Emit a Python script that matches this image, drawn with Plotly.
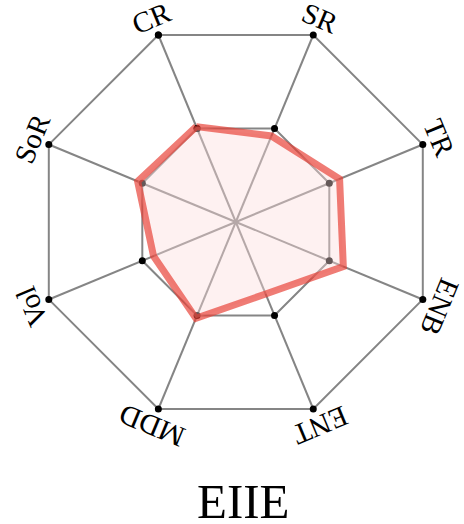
import math
import plotly.graph_objects as go

categories = ["CR", "SR", "TR", "ENB", "ENT", "MDD", "Vol", "SoR"]
eiie_values = [0.51, 0.46, 0.555, 0.575, 0.385, 0.515, 0.44, 0.525]
grid_levels = [0.5, 1.0]
title_text = "EIIE"

W, H = 464, 524
CX, CY, R = 235.8, 222.0, 202.4   # pixel centre and radius of the outer octagon
RMAX = 1.06                         # radial range beyond the outer octagon

closed_theta = categories + [categories[0]]

fig = go.Figure()

# spokes
spoke_r, spoke_t = [], []
for c in categories:
    spoke_r += [0, 1, None]
    spoke_t += [c, c, None]
fig.add_trace(go.Scatterpolar(
    r=spoke_r, theta=spoke_t, mode="lines",
    line=dict(color="#858585", width=2),
    hoverinfo="skip", showlegend=False))

# grid octagons with vertex dots
for lvl in grid_levels:
    fig.add_trace(go.Scatterpolar(
        r=[lvl] * (len(categories) + 1), theta=closed_theta,
        mode="lines+markers",
        line=dict(color="#858585", width=2),
        marker=dict(color="black", size=7),
        cliponaxis=False, hoverinfo="skip", showlegend=False))

# translucent fill
fig.add_trace(go.Scatterpolar(
    r=eiie_values + [eiie_values[0]], theta=closed_theta,
    mode="lines", fill="toself",
    fillcolor="rgba(252,220,220,0.4)",
    line=dict(width=0, color="rgba(0,0,0,0)"),
    hoverinfo="skip", showlegend=False))

# red outline
fig.add_trace(go.Scatterpolar(
    r=eiie_values + [eiie_values[0]], theta=closed_theta,
    mode="lines",
    line=dict(color="rgba(232,62,52,0.68)", width=7),
    hoverinfo="skip", showlegend=False))

RD = R * RMAX
dom_x = [(CX - RD) / W, (CX + RD) / W]
dom_y = [1 - (CY + RD) / H, 1 - (CY - RD) / H]

fig.update_layout(
    width=W, height=H,
    margin=dict(l=0, r=0, t=0, b=0),
    paper_bgcolor="white", plot_bgcolor="white",
    showlegend=False,
    polar=dict(
        domain=dict(x=dom_x, y=dom_y),
        bgcolor="rgba(0,0,0,0)",
        gridshape="linear",
        radialaxis=dict(range=[0, RMAX], visible=False, showgrid=False),
        angularaxis=dict(
            categoryorder="array", categoryarray=categories,
            rotation=112.5, direction="clockwise",
            showgrid=False, showline=False,
            showticklabels=False, ticks=""),
    ),
)

# rotated axis labels
n = len(categories)
label_r = 1.09 * R
annotations = []
for i, name in enumerate(categories):
    ang = -22.5 + i * 360.0 / n
    rad = math.radians(ang)
    px = CX + label_r * math.sin(rad)
    py = CY - label_r * math.cos(rad)
    ta = ang if ang <= 180 else ang - 360
    annotations.append(dict(
        x=px / W, y=1 - py / H, xref="paper", yref="paper",
        text=name, showarrow=False, textangle=ta,
        xanchor="center", yanchor="middle",
        font=dict(family="Liberation Serif", size=29, color="black")))

annotations.append(dict(
    x=243.3 / W, y=1 - 501 / H, xref="paper", yref="paper",
    text=title_text, showarrow=False, xanchor="center", yanchor="middle",
    font=dict(family="Liberation Serif", size=49, color="black")))

fig.update_layout(annotations=annotations)

fig.write_html(
    "out.html",
    config={"displayModeBar": False},
    post_script="document.body.style.margin='0';document.body.style.padding='0';")
